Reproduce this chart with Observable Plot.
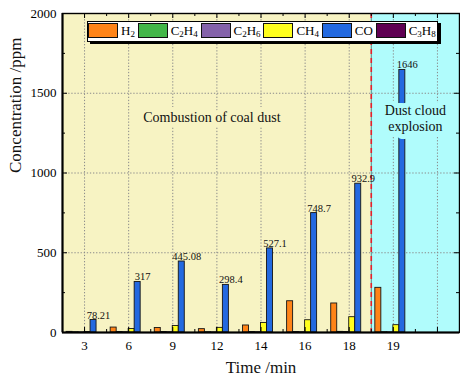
<!DOCTYPE html>
<html>
<head>
<meta charset="utf-8">
<script src="https://cdn.jsdelivr.net/npm/d3@7"></script>
<script src="https://cdn.jsdelivr.net/npm/@observablehq/plot@0.6"></script>
<style>
  body { margin: 0; background: #fff; }
  #chart { position: relative; width: 460px; height: 379px; font-family: "Liberation Serif", "Times New Roman", serif; }
  #chart svg { display: block; }
  .legend {
    position: absolute; left: 87px; top: 21px; width: 351px; height: 21px;
    box-sizing: border-box; background: #fff; border: 1px solid #000;
    box-shadow: 3px 2px 0 #000; display: flex; align-items: flex-start;
    gap: 2.8px; padding: 1px 0 0 0; font-size: 13px; color: #000;
  }
  .legend .item { display: flex; align-items: flex-start; }
  .legend .sw { width: 30px; height: 15px; box-sizing: border-box; border: 1px solid #111; }
  .legend .lab { margin-left: 3px; line-height: 15px; white-space: nowrap; }
  .legend sub { font-size: 9px; line-height: 0; vertical-align: -2px; }
</style>
</head>
<body>
<div id="chart"></div>
<script>
// Sampling times (min) and gas concentrations (ppm)
const groups = ["3", "6", "9", "12", "14", "16", "18", "19"];
const seriesNames = ["H2", "C2H4", "C2H6", "CH4", "CO", "C3H8"];
const seriesColors = ["#FF8418", "#43B649", "#8462AA", "#FFFF1E", "#2369E0", "#5F0052"];
const h2   = [4, 31, 28, 21, 44, 196, 182, 280];
const c2h4 = [2, 3, 3, 2, 3, 3, 4, 2];
const c2h6 = [1, 2, 2, 1, 2, 2, 3, 1];
const ch4  = [3, 22, 41, 29, 60, 77, 96, 46];
const co   = [78.21, 317, 445.08, 298.4, 527.1, 748.7, 932.9, 1646];
const c3h8 = [0, 0, 0, 0, 0, 0, 0, 0];
const yTicks = [0, 500, 1000, 1500, 2000];
const yMinorTicks = [250, 750, 1250, 1750];

const values = [h2, c2h4, c2h6, ch4, co, c3h8];
const slotCount = groups.length + 1;      // one spare slot on the right
const barSpan = 0.136;                    // bar width as a fraction of a time slot
const coIndex = seriesNames.indexOf("CO");

const rows = [];
groups.forEach((g, gi) => {
  seriesNames.forEach((s, si) => {
    rows.push({
      gi, series: s, value: values[si][gi],
      x1: gi + (si - 3) * barSpan,
      x2: gi + (si - 2) * barSpan
    });
  });
});
const coRows = rows.filter(r => r.series === "CO");

// Two stages: coal dust combustion (3–18 min), dust cloud explosion (19 min on)
const zones = [
  {from: 0, to: groups.indexOf("18"), fill: "#F7F3C3", text: "Combustion of coal dust", halo: "#F7F3C3"},
  {from: groups.indexOf("19"), to: slotCount - 1, fill: "#B0FCFC", text: "Dust cloud\nexplosion", halo: "#B0FCFC"}
];
const stageBreak = groups.indexOf("19") - 0.5;

const W = 460, H = 379, mL = 62, mR = 1, mT = 13, mB = 47;
const yPerPx = 2000 / (H - mT - mB);
const xPerPx = slotCount / (W - mL - mR);
const major = 5, minor = 3;
const slots = d3.range(slotCount);
const slotEdges = d3.range(1, slotCount).map(i => i - 0.5);
const font = '"Liberation Serif", "Times New Roman", serif';

const plot = Plot.plot({
  width: W, height: H,
  marginLeft: mL, marginRight: mR, marginTop: mT, marginBottom: mB,
  style: {fontFamily: font, fontSize: "13px", color: "#000", background: "transparent", overflow: "visible"},
  x: {domain: [-0.5, slotCount - 0.5]},
  y: {domain: [0, 2000]},
  color: {domain: seriesNames, range: seriesColors},
  marks: [
    // stage backgrounds
    Plot.rect(zones, {x1: d => d.from - 0.5, x2: d => d.to + 0.5, y1: 0, y2: 2000, fill: "fill"}),
    // dotted grid
    Plot.ruleX(slots, {stroke: "#8a8a8a", strokeWidth: 1, strokeDasharray: "1.3,1.8"}),
    Plot.ruleY([500, 1000, 1500], {stroke: "#8a8a8a", strokeWidth: 1, strokeDasharray: "1.3,1.8"}),
    // stage boundary
    Plot.ruleX([stageBreak], {stroke: "#4f8888", strokeWidth: 1}),
    Plot.ruleX([stageBreak], {stroke: "#E8202A", strokeWidth: 1.6, strokeDasharray: "5,4"}),
    // bars
    Plot.rectY(rows, {x1: "x1", x2: "x2", y1: 0, y2: "value", fill: "series", stroke: "#151515", strokeWidth: 0.9}),
    // CO values
    Plot.text(coRows, {x: d => (d.x1 + d.x2) / 2, y: "value", text: d => String(d.value),
      dx: 5, dy: -1.5, lineAnchor: "bottom", fontSize: 10.5, fill: "#111"}),
    // stage captions
    Plot.text(zones.slice(0, 1), {x: d => (d.from + d.to) / 2, y: 1345, text: "text", dx: -5,
      lineAnchor: "middle", fontSize: 14, fill: "#111", stroke: "halo", strokeWidth: 10}),
    Plot.text(zones.slice(1), {x: d => (d.from + d.to) / 2, y: 1348, text: "text", lineHeight: 1.15,
      lineAnchor: "middle", fontSize: 14, fill: "#111", stroke: "halo", strokeWidth: 10}),
    // frame
    Plot.frame({stroke: "#000", strokeWidth: 1.4}),
    Plot.ruleX([-0.5], {stroke: "#000", strokeWidth: 2}),
    Plot.ruleY([0], {stroke: "#000", strokeWidth: 2}),
    // inward ticks, bottom and top
    Plot.ruleX(slots, {y1: 0, y2: major * yPerPx, stroke: "#000", strokeWidth: 1}),
    Plot.ruleX(slotEdges, {y1: 0, y2: minor * yPerPx, stroke: "#000", strokeWidth: 1}),
    Plot.ruleX(slots, {y1: 2000 - major * yPerPx, y2: 2000, stroke: "#000", strokeWidth: 1}),
    Plot.ruleX(slotEdges, {y1: 2000 - minor * yPerPx, y2: 2000, stroke: "#000", strokeWidth: 1}),
    // inward ticks, left and right
    Plot.ruleY(yTicks, {x1: -0.5, x2: -0.5 + major * xPerPx, stroke: "#000", strokeWidth: 1}),
    Plot.ruleY(yMinorTicks, {x1: -0.5, x2: -0.5 + minor * xPerPx, stroke: "#000", strokeWidth: 1}),
    Plot.ruleY(yTicks, {x1: slotCount - 0.5 - major * xPerPx, x2: slotCount - 0.5, stroke: "#000", strokeWidth: 1}),
    Plot.ruleY(yMinorTicks, {x1: slotCount - 0.5 - minor * xPerPx, x2: slotCount - 0.5, stroke: "#000", strokeWidth: 1}),
    // tick labels
    Plot.axisX(d3.range(groups.length), {tickFormat: i => groups[i], tickSize: 0, tickPadding: 8, fontSize: 13, label: null}),
    Plot.axisY(yTicks, {tickFormat: d => String(d), tickSize: 0, tickPadding: 6, fontSize: 13, label: null}),
    // axis titles
    Plot.text(["Concentration /ppm"], {frameAnchor: "left", dx: -47, rotate: -90, fontSize: 17, fill: "#111"}),
    Plot.text(["Time /min"], {frameAnchor: "bottom", dy: 35, lineAnchor: "middle", fontSize: 17, fill: "#111"})
  ]
});

const chart = document.getElementById("chart");
chart.appendChild(plot);

// legend box drawn over the top of the plot area
const legend = d3.select(chart).append("div").attr("class", "legend");
const items = legend.selectAll(".item").data(seriesNames).join("div").attr("class", "item");
items.append("div").attr("class", "sw").style("background", (d, i) => seriesColors[i]);
items.append("div").attr("class", "lab").html(d => d.replace(/(\d)/g, "<sub>$1</sub>"));
</script>
</body>
</html>
